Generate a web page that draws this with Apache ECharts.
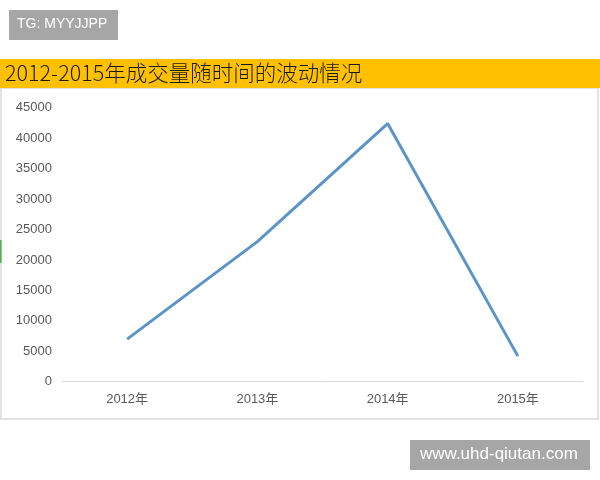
<!DOCTYPE html>
<html>
<head>
<meta charset="utf-8">
<script src="https://cdn.jsdelivr.net/npm/echarts@6/dist/echarts.min.js"></script>
<style>
html,body{margin:0;padding:0;background:#fff;}
#chart{width:600px;height:480px;}
</style>
</head>
<body>
<div id="chart"></div>
<script>
var categories = ['2012年', '2013年', '2014年', '2015年'];
var volumes = [7000, 23000, 42400, 4200];
var yTicks = {min: 0, max: 45000, interval: 5000};
var titleText = '2012-2015年成交量随时间的波动情况';
var tagText = 'TG: MYYJJPP';
var siteText = 'www.uhd-qiutan.com';

var chart = echarts.init(document.getElementById('chart'));
chart.setOption({
  backgroundColor: '#ffffff',
  animation: false,
  grid: {left: 62, right: 17, top: 107.7, bottom: 98.3, containLabel: false},
  xAxis: {
    type: 'category',
    data: categories,
    boundaryGap: true,
    axisLine: {show: true, lineStyle: {color: '#d9d9d9', width: 1}},
    axisTick: {show: false},
    axisLabel: {color: '#595959', fontSize: 13, fontFamily: 'Liberation Sans, Noto Sans CJK SC', margin: 11}
  },
  yAxis: {
    type: 'value',
    min: yTicks.min, max: yTicks.max, interval: yTicks.interval,
    axisLine: {show: false},
    axisTick: {show: false},
    splitLine: {show: false},
    axisLabel: {color: '#595959', fontSize: 13, fontFamily: 'Liberation Sans', margin: 10,
      formatter: function (v) { return String(v); }}
  },
  series: [{
    type: 'line',
    data: volumes,
    symbol: 'none',
    lineStyle: {color: '#5b94c5', width: 3}
  }],
  graphic: [
    {type: 'rect', shape: {x: 1, y: 88, width: 597, height: 331}, style: {fill: 'none', stroke: '#d9d9d9', lineWidth: 1.5}, z: -1},
    {type: 'rect', shape: {x: 0, y: 240, width: 1.5, height: 23}, style: {fill: '#4caf50'}, z: 5},
    {type: 'rect', shape: {x: 0, y: 59, width: 600, height: 29}, style: {fill: '#ffc000'}},
    {type: 'text', left: 5, top: 62, style: {text: titleText, fill: '#1a1a1a', font: '300 21.5px "Noto Sans CJK SC"'}},
    {type: 'rect', shape: {x: 9, y: 10, width: 109, height: 30}, style: {fill: '#a6a6a6'}},
    {type: 'text', left: 17, top: 17, style: {text: tagText, fill: '#ffffff', font: '14px "Liberation Sans"'}},
    {type: 'rect', shape: {x: 410, y: 440, width: 180, height: 30}, style: {fill: '#a6a6a6'}},
    {type: 'text', left: 420, top: 446, style: {text: siteText, fill: '#ffffff', font: '17px "Liberation Sans"'}}
  ]
});
</script>
</body>
</html>
